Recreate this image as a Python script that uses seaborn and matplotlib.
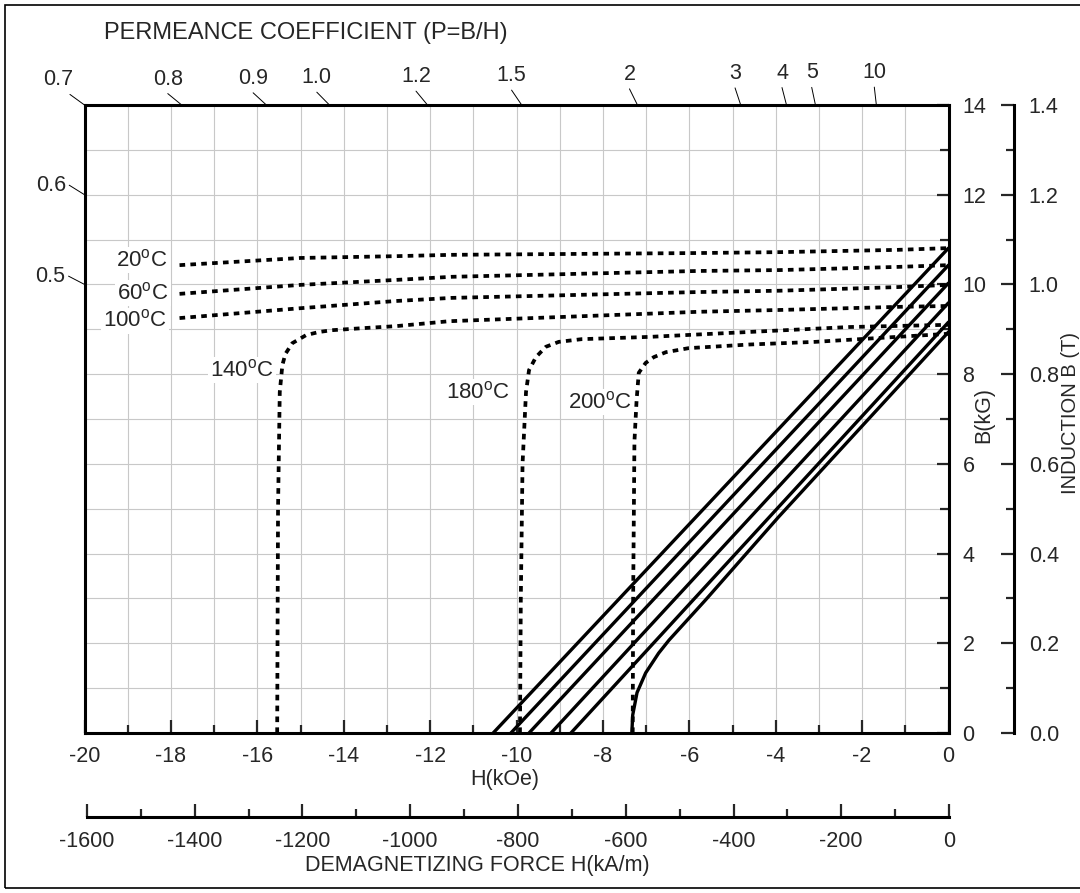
import matplotlib
matplotlib.use('Agg')
import matplotlib.pyplot as plt
import numpy as np
import seaborn as sns
from matplotlib.ticker import MultipleLocator, FormatStrFormatter
from matplotlib.lines import Line2D
from matplotlib.patches import Rectangle

# --- data: H in kOe, B in kG ---
# intrinsic curves (dotted)
j20_h = [-17.8, -15.0, -12.8, -11.5, -5.8, -3.9, -1.2, 0.0]
j20_b = [10.43, 10.59, 10.63, 10.66, 10.70, 10.72, 10.77, 10.81]
j60_h = [-17.8, -15.0, -12.8, -11.5, -5.8, -3.9, -1.2, 0.0]
j60_b = [9.79, 9.99, 10.10, 10.17, 10.30, 10.32, 10.39, 10.43]
j100_h = [-17.8, -15.0, -12.8, -11.5, -5.8, -3.9, -1.2, 0.0]
j100_b = [9.25, 9.47, 9.63, 9.70, 9.83, 9.86, 9.94, 9.99]
j140_h = [-15.54, -15.52, -15.48, -15.42, -15.35, -15.19, -14.87, -14.57, -14.27,
          -13.48, -12.79, -11.56, -5.78, -3.93, -1.16, 0.0]
j140_b = [0.0, 5.0, 7.6, 8.2, 8.45, 8.69, 8.87, 8.94, 8.98,
          9.03, 9.07, 9.18, 9.39, 9.43, 9.50, 9.52]
j180_h = [-9.92, -9.90, -9.86, -9.78, -9.71, -9.55, -9.32, -9.02, -8.49, -6.94, -4.62, -2.31, 0.0]
j180_b = [0.0, 3.0, 6.0, 7.6, 8.09, 8.38, 8.61, 8.72, 8.78, 8.83, 8.94, 9.05, 9.10]
j200_h = [-7.31, -7.30, -7.27, -7.22, -7.17, -7.01, -6.82, -6.54, -6.01, -4.62, -3.08, -1.55, 0.0]
j200_b = [0.0, 3.0, 6.5, 7.42, 8.03, 8.25, 8.38, 8.49, 8.58, 8.66, 8.72, 8.81, 8.90]

# normal curves (solid)
b20_h, b20_b = [-10.54, 0.0], [0.0, 10.81]
b60_h, b60_b = [-10.13, 0.0], [0.0, 10.43]
b100_h, b100_b = [-9.71, 0.0], [0.0, 10.03]
b140_h, b140_b = [-9.20, 0.0], [0.0, 9.59]
b180_h, b180_b = [-8.74, 0.0], [0.0, 9.16]
b200_h = [-7.33, -7.31, -7.21, -7.01, -6.71, -6.47, -5.62, -3.93, 0.0]
b200_b = [0.0, 0.4, 0.9, 1.34, 1.78, 2.07, 2.97, 4.82, 8.94]

temps = ['20', '60', '100', '140', '180', '200']
# label anchor (H, B) for each temperature
temp_label_h = [-18.67, -18.65, -18.83, -16.35, -10.89, -8.07]
temp_label_b = [10.54, 9.81, 9.19, 8.09, 7.60, 7.38]

# permeance coefficient marks: where each load line leaves the frame
perm_top = ['0.7', '0.8', '0.9', '1.0', '1.2', '1.5', '2', '3', '4', '5', '10']
perm_top_h = [-20.0, -17.75, -15.79, -14.33, -12.06, -9.88, -7.20, -4.81, -3.75, -3.08, -1.67]
perm_left = ['0.6', '0.5']
perm_left_b = [12.0, 10.0]

sns.set_style('white')
plt.rcParams['font.family'] = ['Liberation Sans', 'DejaVu Sans']
plt.rcParams['mathtext.default'] = 'regular'
plt.rcParams['axes.unicode_minus'] = False

W, H = 1080, 893
fig = plt.figure(figsize=(W / 100, H / 100), dpi=100)


def fx(px):
    return px / W


def fy(py):
    return 1 - py / H


FS = 15.5
X0, X1, Y0, Y1 = 84.5, 948.5, 105, 733
ax = fig.add_axes([fx(X0), fy(Y1), fx(X1) - fx(X0), fy(Y0) - fy(Y1)])
ax.set_xlim(-20, 0)
ax.set_ylim(0, 14)

ax.xaxis.set_major_locator(MultipleLocator(2))
ax.xaxis.set_minor_locator(MultipleLocator(1))
ax.yaxis.set_major_locator(MultipleLocator(2))
ax.yaxis.set_minor_locator(MultipleLocator(1))
ax.grid(which='both', color='#c8c8c8', lw=0.8)
ax.set_axisbelow(True)
for s in ax.spines.values():
    s.set_linewidth(2.2)
    s.set_color('black')

ax.yaxis.tick_right()
ax.yaxis.set_label_position('right')
ax.tick_params(axis='x', which='major', direction='in', length=9.5, width=1.6,
               pad=9, labelsize=FS, top=False, bottom=True)
ax.tick_params(axis='x', which='minor', direction='in', length=5.5, width=1.6,
               top=False, bottom=True)
ax.tick_params(axis='y', which='major', direction='in', length=9, width=1.6,
               pad=10, labelsize=FS, left=False, right=True)
ax.tick_params(axis='y', which='minor', direction='in', length=6.5, width=1.6,
               left=False, right=True)

ax.set_xlabel('H(kOe)', fontsize=FS)
ax.xaxis.set_label_coords(fx(505), fy(779), transform=fig.transFigure)
ax.xaxis.label.set_va('center')
ax.set_ylabel('B(kG)', fontsize=FS, rotation=90)
ax.yaxis.set_label_coords(fx(984), fy(415), transform=fig.transFigure)
ax.yaxis.label.set_va('center')

dot = (0, (1.5, 1.4))
for h, b in [(j20_h, j20_b), (j60_h, j60_b), (j100_h, j100_b),
             (j140_h, j140_b), (j180_h, j180_b), (j200_h, j200_b)]:
    sns.lineplot(x=h, y=b, sort=False, estimator=None, color='black',
                 lw=2.7, linestyle=dot, ax=ax, zorder=3)
for h, b in [(b20_h, b20_b), (b60_h, b60_b), (b100_h, b100_b),
             (b140_h, b140_b), (b180_h, b180_b), (b200_h, b200_b)]:
    sns.lineplot(x=h, y=b, sort=False, estimator=None, color='black',
                 lw=2.4, ax=ax, zorder=3)

for t, h, b in zip(temps, temp_label_h, temp_label_b):
    ax.text(h, b, t + '$^o$C', fontsize=16, ha='center', va='center', zorder=2.5,
            bbox=dict(fc='white', ec='none', pad=1.5))

# second y axis: tesla
ax_t = fig.add_axes([fx(X0), fy(Y1), fx(1013.5) - fx(X0), fy(Y0) - fy(Y1)])
ax_t.patch.set_visible(False)
for s in ['top', 'left', 'bottom']:
    ax_t.spines[s].set_visible(False)
ax_t.spines['right'].set_linewidth(2.2)
ax_t.spines['right'].set_color('black')
ax_t.set_xticks([])
ax_t.set_ylim(0, 1.4)
ax_t.yaxis.tick_right()
ax_t.yaxis.set_major_locator(MultipleLocator(0.2))
ax_t.yaxis.set_minor_locator(MultipleLocator(0.1))
ax_t.yaxis.set_major_formatter(FormatStrFormatter('%.1f'))
ax_t.tick_params(axis='y', which='major', direction='in', length=9.5, width=1.6,
                 pad=11, labelsize=FS, left=False, right=True)
ax_t.tick_params(axis='y', which='minor', direction='in', length=5.5, width=1.6,
                 left=False, right=True)
ax_t.yaxis.set_label_position('right')
ax_t.set_ylabel('INDUCTION B (T)', fontsize=14.5, rotation=90)
ax_t.yaxis.set_label_coords(fx(1070), fy(413), transform=fig.transFigure)
ax_t.yaxis.label.set_va('center')

# second x axis: kA/m
ax_k = fig.add_axes([fx(87), fy(817), fx(949) - fx(87), 0.0001])
ax_k.patch.set_visible(False)
for s in ['top', 'left', 'right']:
    ax_k.spines[s].set_visible(False)
ax_k.spines['bottom'].set_linewidth(2.2)
ax_k.spines['bottom'].set_color('black')
ax_k.set_yticks([])
ax_k.set_xlim(-1600, 0)
ax_k.xaxis.set_major_locator(MultipleLocator(200))
ax_k.xaxis.set_minor_locator(MultipleLocator(100))
ax_k.tick_params(axis='x', which='major', direction='in', length=9.5, width=1.6,
                 pad=10, labelsize=FS, bottom=True, top=False)
ax_k.tick_params(axis='x', which='minor', direction='in', length=5.5, width=1.6,
                 bottom=True, top=False)
ax_k.set_xlabel('DEMAGNETIZING FORCE H(kA/m)', fontsize=FS)
ax_k.xaxis.set_label_coords(fx(477), fy(866), transform=fig.transFigure)
ax_k.xaxis.label.set_va('center')

fig.text(fx(306), fy(33), 'PERMEANCE COEFFICIENT (P=B/H)', fontsize=17,
         ha='center', va='center')

# permeance coefficient marks along the load lines
to_fig = fig.transFigure.inverted()
org = ax.transData.transform((0, 0))


def perm_mark(h, b, label, side):
    end = ax.transData.transform((h, b))
    d = (end - org) / np.hypot(*(end - org))
    out = end + d * 18
    p0, p1 = to_fig.transform(end), to_fig.transform(out)
    fig.add_artist(Line2D([p0[0], p1[0]], [p0[1], p1[1]], color='black', lw=0.7))
    if side == 'top':
        tx, ty = to_fig.transform(out + np.array([0, 4]))
        ha = 'right' if h <= -20 else 'center'
        if ha == 'right':
            tx = to_fig.transform(out + np.array([3, 0]))[0]
        fig.text(tx, ty, label, fontsize=FS, ha=ha, va='bottom')
    else:
        tx, ty = to_fig.transform(out + np.array([-3, 0]))
        fig.text(tx, ty, label, fontsize=FS, ha='right', va='center')


for lab, h in zip(perm_top, perm_top_h):
    perm_mark(h, 14.0, lab, 'top')
for lab, b in zip(perm_left, perm_left_b):
    perm_mark(-20.0, b, lab, 'left')

# outer frame
fig.add_artist(Rectangle((fx(5), fy(888)), fx(1100) - fx(5), fy(5) - fy(888),
                         transform=fig.transFigure, fill=False, ec='black', lw=1.2))

fig.savefig('out.png', dpi=100)
